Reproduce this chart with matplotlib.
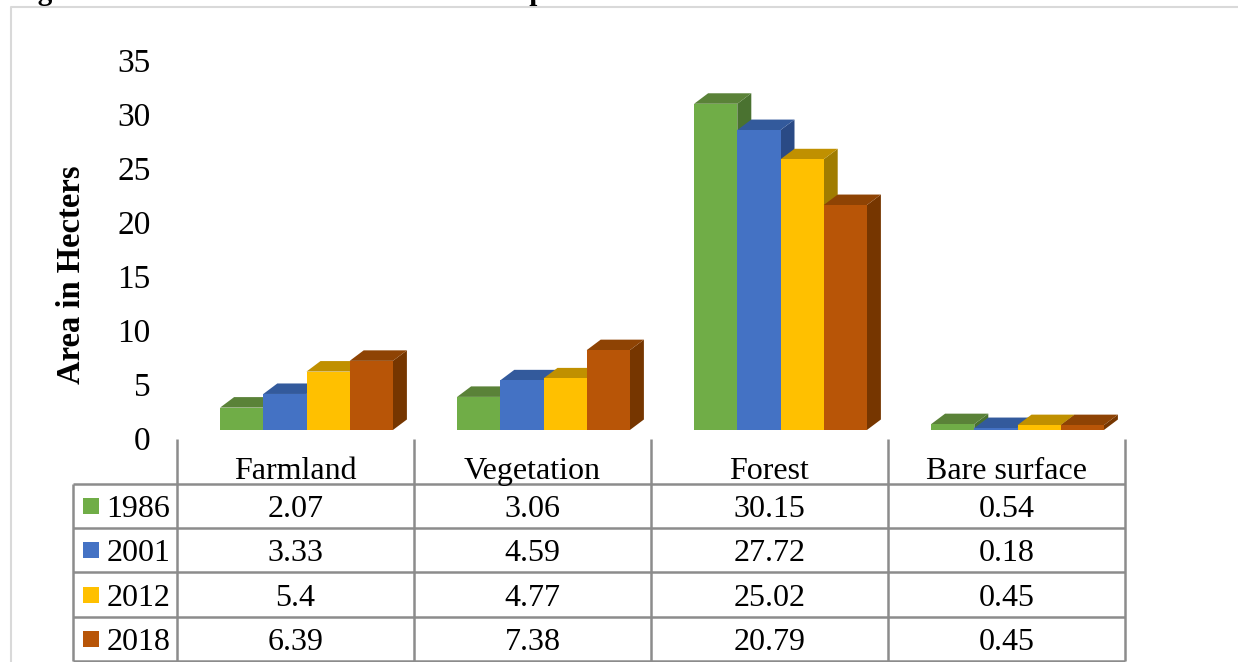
#!/usr/bin/env python3
import matplotlib
matplotlib.use("Agg")
import matplotlib.pyplot as plt
from matplotlib.patches import Polygon, Rectangle
from matplotlib.transforms import ScaledTranslation

plt.rcParams['font.family'] = ['Liberation Serif', 'DejaVu Serif']

categories = ["Farmland", "Vegetation", "Forest", "Bare surface"]
years = ["1986", "2001", "2012", "2018"]
val1986 = [2.07, 3.06, 30.15, 0.54]
val2001 = [3.33, 4.59, 27.72, 0.18]
val2012 = [5.4, 4.77, 25.02, 0.45]
val2018 = [6.39, 7.38, 20.79, 0.45]
yticks = [0, 5, 10, 15, 20, 25, 30, 35]

series = [val1986, val2001, val2012, val2018]
front = ["#70AD47", "#4472C4", "#FFC000", "#B85507"]
top = ["#5A8238", "#335A9C", "#C09000", "#8E4304"]
side = ["#4A7230", "#2A4A85", "#A07C00", "#763600"]

W, H = 1238, 662
PX_X = 237           # pixels per category
PX_Y = 10.82         # pixels per value unit
BAR_W = 43.2 / PX_X
BAR_SHIFT = 11 / PX_X
DEPTH_X = 14 / PX_X
DEPTH_Y = 10.5 / PX_Y
GRID = "#8C8C8C"

fig = plt.figure(figsize=(W / 100, H / 100), dpi=100)

# overlay in pixel coordinates for the frame, title and data table
page = fig.add_axes([0, 0, 1, 1])
page.set_xlim(0, W)
page.set_ylim(H, 0)
page.axis("off")

# chart area: category x axis, value y axis
ax = fig.add_axes([177 / W, (H - 430) / H, 948 / W, 35 * PX_Y / H])
ax.set_xlim(-0.5, 3.5)
ax.set_ylim(0, 35)
ax.patch.set_alpha(0)
for s in ax.spines.values():
    s.set_visible(False)
ax.set_xticks([])
ax.set_yticks(yticks)
ax.tick_params(axis='y', length=0, labelsize=24, pad=19)
# value labels sit a little below the front baseline of the 3D bars
shift = ScaledTranslation(0, -8.5 / 100, fig.dpi_scale_trans)
for lab in ax.get_yticklabels():
    lab.set_transform(lab.get_transform() + shift)

page.text(72, 275, "Area in Hecters", rotation=90, fontsize=23.5,
          fontweight="bold", ha="center", va="center")

# 3D-look columns, drawn left to right so later bars overlap earlier sides
for c in range(len(categories)):
    for i, vals in enumerate(series):
        v = vals[c]
        x0 = c + BAR_SHIFT - 2 * BAR_W + i * BAR_W
        x1 = x0 + BAR_W
        ax.add_patch(Polygon([(x1, 0), (x1 + DEPTH_X, DEPTH_Y), (x1 + DEPTH_X, v + DEPTH_Y), (x1, v)],
                             fc=side[i], ec="none", clip_on=False))
        ax.add_patch(Polygon([(x0, v), (x0 + DEPTH_X, v + DEPTH_Y), (x1 + DEPTH_X, v + DEPTH_Y), (x1, v)],
                             fc=top[i], ec="none", clip_on=False))
        ax.bar(x0, v, BAR_W, align="edge", color=front[i], clip_on=False)

# page frame and caption running off the top edge
page.plot([11, 11, W], [H, 7, 7], color="#D9D9D9", lw=1.5)
page.text(12, 0.5, "Figure 6: Land Use and Land Cover Comparison Chart", fontsize=21,
          fontweight="bold", ha="left", va="baseline", clip_on=True)

# data table
cols = [177, 414, 651, 888, 1125]
rows = [484, 528, 572, 617, 661]
for x in cols:
    page.plot([x, x], [439, rows[-1]], color=GRID, lw=1.8, solid_capstyle="butt")
page.plot([73, 73], [rows[0], rows[-1]], color=GRID, lw=1.8, solid_capstyle="butt")
for y in rows:
    page.plot([73, cols[-1]], [y, y], color=GRID, lw=1.8, solid_capstyle="butt")

for c, name in enumerate(categories):
    cx = (cols[c] + cols[c + 1]) / 2
    page.text(cx, 468, name, fontsize=23, ha="center", va="center_baseline")
    for r, vals in enumerate(series):
        cy = (rows[r] + rows[r + 1]) / 2
        page.text(cx, cy, str(vals[c]), fontsize=23, ha="center", va="center_baseline")

for r, yr in enumerate(years):
    cy = (rows[r] + rows[r + 1]) / 2
    page.add_patch(Rectangle((83, cy - 8), 16, 16, fc=front[r], ec="none"))
    page.text(138.5, cy, yr, fontsize=23, ha="center", va="center_baseline")

fig.savefig("out.png", dpi=100)
